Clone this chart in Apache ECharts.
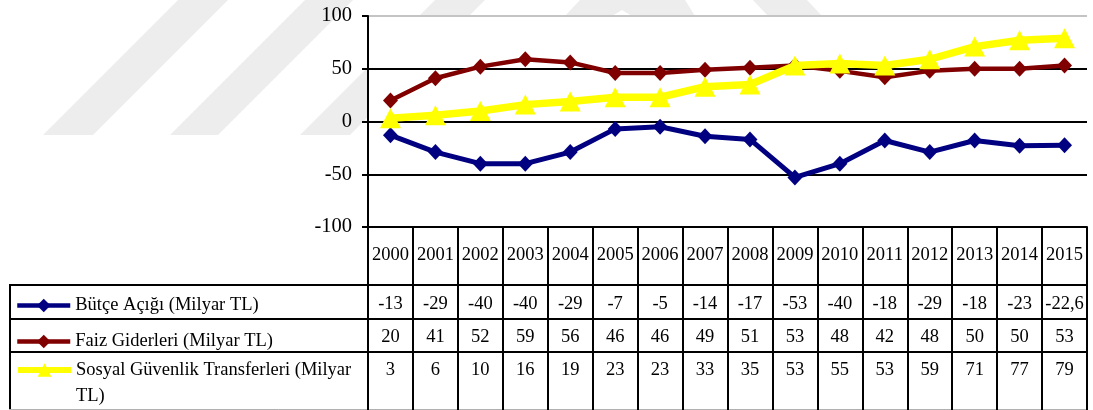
<!DOCTYPE html>
<html>
<head>
<meta charset="utf-8">
<script src="https://cdn.jsdelivr.net/npm/echarts@6/dist/echarts.min.js"></script>
<style>
  html, body { margin: 0; padding: 0; background: #fff; }
  #chart { width: 1093px; height: 410px; }
</style>
</head>
<body>
<div id="chart"></div>
<script>
// Yearly figures, billion TL
const years = ['2000','2001','2002','2003','2004','2005','2006','2007','2008','2009','2010','2011','2012','2013','2014','2015'];
const butceAcigi = [-13, -29, -40, -40, -29, -7, -5, -14, -17, -53, -40, -18, -29, -18, -23, -22.6];
const faizGiderleri = [20, 41, 52, 59, 56, 46, 46, 49, 51, 53, 48, 42, 48, 50, 50, 53];
const sosyalGuvenlik = [3, 6, 10, 16, 19, 23, 23, 33, 35, 53, 55, 53, 59, 71, 77, 79];
const seriesNames = ['Bütçe Açığı (Milyar TL)', 'Faiz Giderleri (Milyar TL)', 'Sosyal Güvenlik Transferleri (Milyar TL)'];
const yMin = -100, yMax = 100, yStep = 50;

const FONT = '"Liberation Serif", "Times New Roman", serif';
const INK = '#000';

// decimal comma, as printed in the data table
const fmt = v => String(v).replace('.', ',');

const chart = echarts.init(document.getElementById('chart'), null, { renderer: 'canvas' });

// one category axis per table row; ticks form the cell borders
function tableAxis(offset, tickLen, margin, values) {
  return {
    type: 'category',
    data: years,
    gridIndex: 0,
    position: 'bottom',
    offset: offset,
    boundaryGap: true,
    axisLine: { show: true, onZero: false, lineStyle: { color: INK, width: 2 } },
    axisTick: { show: true, interval: 0, length: tickLen, lineStyle: { color: INK, width: 2 } },
    axisLabel: {
      interval: 0, margin: margin, verticalAlign: 'middle',
      fontFamily: FONT, fontSize: 18.5, color: INK,
      formatter: values ? ((v, i) => fmt(values[i])) : (v => v)
    },
    splitLine: { show: false }
  };
}

const legendBase = {
  orient: 'vertical', left: 15, padding: 0,
  itemWidth: 53, itemHeight: 17,
  selectedMode: false,
  textStyle: { fontFamily: FONT, fontSize: 18.5, color: INK }
};

const wm = '#ededed';
const option = {
  backgroundColor: '#fff',
  animation: false,
  grid: { left: 368, right: 6, top: 16, bottom: 183, show: true, backgroundColor: '#fff', borderWidth: 0 },
  xAxis: [
    tableAxis(0, 58, 28, null),
    tableAxis(58, 34, 19, butceAcigi),
    tableAxis(92, 33, 18, faizGiderleri),
    tableAxis(125, 58, 18, sosyalGuvenlik)
  ],
  yAxis: {
    type: 'value', min: yMin, max: yMax, interval: yStep,
    axisLine: { show: true, lineStyle: { color: INK, width: 2 } },
    axisTick: { show: true, length: 6, lineStyle: { color: INK, width: 2 } },
    axisLabel: { margin: 16, fontFamily: FONT, fontSize: 20.5, color: INK },
    splitLine: { show: true, lineStyle: { color: [INK, INK, INK, INK, '#c4c4c4'], width: 2 } }
  },
  legend: [
    Object.assign({}, legendBase, { data: [seriesNames[0]], top: 296, lineStyle: { width: 4.5 } }),
    Object.assign({}, legendBase, { data: [seriesNames[1]], top: 332, lineStyle: { width: 4.5 } }),
    Object.assign({}, legendBase, {
      data: [seriesNames[2]], top: 331, lineStyle: { width: 6 },
      // empty leading line keeps the first text line level with the icon
      formatter: n => '\n' + n.replace(' TL)', '\nTL)'),
      textStyle: { fontFamily: FONT, fontSize: 18.5, color: INK, lineHeight: 26 }
    })
  ],
  series: [
    {
      name: seriesNames[0], type: 'line', data: butceAcigi,
      symbol: 'diamond', symbolSize: [15, 16],
      lineStyle: { color: '#000080', width: 5 },
      itemStyle: { color: '#000080' },
      emphasis: { disabled: true }, z: 2
    },
    {
      name: seriesNames[1], type: 'line', data: faizGiderleri,
      symbol: 'diamond', symbolSize: [15, 16],
      lineStyle: { color: '#800000', width: 4.5 },
      itemStyle: { color: '#800000' },
      emphasis: { disabled: true }, z: 3
    },
    {
      name: seriesNames[2], type: 'line', data: sosyalGuvenlik,
      symbol: 'triangle', symbolSize: [21, 20],
      lineStyle: { color: '#ffff00', width: 7.5 },
      itemStyle: { color: '#ffff00' },
      emphasis: { disabled: true }, z: 4
    }
  ],
  graphic: [
    // faint background emblem stripes
    { type: 'polygon', z: -10, silent: true, shape: { points: [[43,135],[93,135],[228,0],[178,0]] }, style: { fill: wm } },
    { type: 'polygon', z: -10, silent: true, shape: { points: [[170,135],[218,135],[353,0],[305,0]] }, style: { fill: wm } },
    { type: 'polygon', z: -10, silent: true, shape: { points: [[300,135],[350,135],[485,0],[435,0]] }, style: { fill: wm } },
    { type: 'polygon', z: -10, silent: true, shape: { points: [[565,16],[580,0],[685,0],[695,16],[632,16],[622,10],[612,16]] }, style: { fill: wm } },
    { type: 'polygon', z: -10, silent: true, shape: { points: [[753,0],[807,0],[822,16],[768,16]] }, style: { fill: wm } },
    // row borders of the legend column
    { type: 'line', silent: true, shape: { x1: 9, y1: 285, x2: 369, y2: 285 }, style: { stroke: INK, lineWidth: 2 } },
    { type: 'line', silent: true, shape: { x1: 9, y1: 319, x2: 369, y2: 319 }, style: { stroke: INK, lineWidth: 2 } },
    { type: 'line', silent: true, shape: { x1: 9, y1: 352, x2: 369, y2: 352 }, style: { stroke: INK, lineWidth: 2 } },
    { type: 'line', silent: true, shape: { x1: 10, y1: 284, x2: 10, y2: 410 }, style: { stroke: INK, lineWidth: 2 } },
    { type: 'line', silent: true, shape: { x1: 9, y1: 409.5, x2: 1088, y2: 409.5 }, style: { stroke: '#b0b0b0', lineWidth: 1 } }
  ]
};

chart.setOption(option);
</script>
</body>
</html>
